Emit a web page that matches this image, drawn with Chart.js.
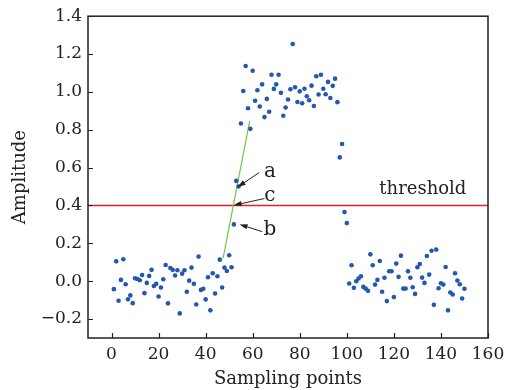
<!DOCTYPE html>
<html>
<head>
<meta charset="utf-8">
<script src="https://cdn.jsdelivr.net/npm/chart.js@4.4.0/dist/chart.umd.min.js"></script>
<style>
  body { margin: 0; background: #fff; }
  #wrap { width: 515px; height: 390px; }
</style>
</head>
<body>
<div id="wrap"><canvas id="ampChart" width="515" height="390"></canvas></div>
<script>
// amplitude of each sampling point, samples 1..150
var amplitude = [
  -0.042, 0.105, -0.103, 0.007, 0.116, -0.016, -0.095, -0.075, -0.116, 0.016,
  0.012, 0.005, 0.033, -0.063, -0.009, 0.028, 0.06, -0.025, -0.014, -0.081,
  -0.033, 0.01, 0.086, -0.117, 0.07, 0.06, 0.03, 0.058, -0.17, 0.04,
  0.058, -0.056, 0.003, 0.072, -0.014, -0.123, 0.13, -0.046, -0.04, -0.096,
  0.021, -0.154, 0.042, -0.065, 0.026, 0.114, -0.033, 0.072, 0.054, 0.137,
  0.074, 0.30, 0.53, 0.50, 0.833, 1.005, 1.137, 0.914, 0.805, 1.112,
  0.953, 1.009, 0.923, 1.04, 0.867, 0.963, 0.895, 1.091, 1.016, 1.04,
  1.091, 0.995, 0.874, 0.918, 0.96, 1.014, 1.253, 1.025, 0.947, 1.003,
  0.94, 1.017, 0.977, 0.956, 1.033, 0.926, 1.083, 0.986, 1.091, 1.017,
  0.988, 1.053, 0.968, 1.032, 1.07, 0.946, 0.654, 0.725, 0.365, 0.307,
  -0.012, 0.084, -0.035, 0.0, 0.014, 0.026, -0.03, -0.039, -0.051, 0.142,
  0.084, -0.018, 0.007, 0.107, -0.056, 0.018, -0.105, 0.053, 0.053, -0.084,
  0.093, 0.023, 0.135, -0.039, -0.039, 0.053, 0.018, -0.032, -0.067, 0.074,
  0.091, 0.019, -0.009, 0.133, 0.035, 0.161, -0.125, 0.167, -0.037, -0.011,
  -0.018, 0.075, -0.154, -0.06, -0.07, 0.042, 0.004, -0.016, -0.091, -0.04
];

var threshold = 0.4;
var thresholdX = [-10, 160];
// green fitted segment through points 52..54
var fitX = [47.4, 58.7];
var fitY = [0.12, 0.846];

var xTicks = [0, 20, 40, 60, 80, 100, 120, 140, 160];
var yTicks = [-0.2, 0, 0.2, 0.4, 0.6, 0.8, 1.0, 1.2, 1.4];

// labels a/b/c: text position, arrow tail, arrow head (data units)
var marks = [
  { text: 'a', tx: 67.3, ty: 0.58, from: [62.8, 0.574], to: [53.6, 0.498] },
  { text: 'c', tx: 67.3, ty: 0.452, from: [65, 0.437], to: [51.9, 0.401] },
  { text: 'b', tx: 67.3, ty: 0.272, from: [64, 0.262], to: [54.4, 0.30] }
];

var serif = '"DejaVu Serif", serif';

var points = amplitude.map(function(v, i) { return { x: i + 1, y: v }; });

var frame = {
  id: 'frame',
  afterDraw: function(chart) {
    var ctx = chart.ctx, a = chart.chartArea;
    var xs = chart.scales.x, ys = chart.scales.y;
    ctx.save();
    ctx.strokeStyle = '#222';
    ctx.lineWidth = 1.5;
    ctx.strokeRect(a.left, a.top, a.right - a.left, a.bottom - a.top);
    ctx.lineWidth = 1.2;
    ctx.beginPath();
    xTicks.forEach(function(t) {
      var px = Math.round(xs.getPixelForValue(t)) + 0.5;
      ctx.moveTo(px, a.bottom);
      ctx.lineTo(px, a.bottom - 5);
    });
    yTicks.forEach(function(t) {
      var py = Math.round(ys.getPixelForValue(t)) + 0.5;
      ctx.moveTo(a.left, py);
      ctx.lineTo(a.left + 5, py);
    });
    ctx.stroke();

    // threshold text
    ctx.fillStyle = '#222';
    ctx.font = '18px ' + serif;
    ctx.textAlign = 'center';
    ctx.textBaseline = 'middle';
    ctx.fillText('threshold', xs.getPixelForValue(132.3), ys.getPixelForValue(0.487));

    // a, b, c labels with arrows
    ctx.font = '20px ' + serif;
    marks.forEach(function(m) {
      ctx.fillText(m.text, xs.getPixelForValue(m.tx), ys.getPixelForValue(m.ty));
      var x1 = xs.getPixelForValue(m.from[0]), y1 = ys.getPixelForValue(m.from[1]);
      var x2 = xs.getPixelForValue(m.to[0]), y2 = ys.getPixelForValue(m.to[1]);
      var ang = Math.atan2(y2 - y1, x2 - x1);
      ctx.lineWidth = 1;
      ctx.beginPath();
      ctx.moveTo(x1, y1);
      ctx.lineTo(x2 - 6 * Math.cos(ang), y2 - 6 * Math.sin(ang));
      ctx.stroke();
      ctx.beginPath();
      ctx.moveTo(x2, y2);
      ctx.lineTo(x2 - 8 * Math.cos(ang) + 2.6 * Math.sin(ang), y2 - 8 * Math.sin(ang) - 2.6 * Math.cos(ang));
      ctx.lineTo(x2 - 8 * Math.cos(ang) - 2.6 * Math.sin(ang), y2 - 8 * Math.sin(ang) + 2.6 * Math.cos(ang));
      ctx.closePath();
      ctx.fill();
    });
    ctx.restore();
  }
};

var ctx = document.getElementById('ampChart').getContext('2d');
var chart = new Chart(ctx, {
  type: 'scatter',
  data: {
    datasets: [
      {
        label: 'samples',
        data: points,
        backgroundColor: '#2457ae',
        borderColor: '#2457ae',
        pointRadius: 2.3,
        pointBorderWidth: 0
      },
      {
        label: 'fit',
        type: 'line',
        data: fitX.map(function(x, i) { return { x: x, y: fitY[i] }; }),
        borderColor: '#6cc644',
        borderWidth: 1.2,
        pointRadius: 0
      },
      {
        label: 'limit',
        type: 'line',
        data: thresholdX.map(function(x) { return { x: x, y: threshold }; }),
        borderColor: 'rgb(236, 32, 36)',
        backgroundColor: 'rgb(236, 32, 36)',
        borderWidth: 1.5,
        pointRadius: 0
      }
    ]
  },
  options: {
    responsive: false,
    animation: false,
    layout: { padding: { left: 10, right: 27, top: 16, bottom: 0 } },
    plugins: { legend: { display: false }, tooltip: { enabled: false } },
    scales: {
      x: {
        type: 'linear',
        min: -10,
        max: 160,
        afterBuildTicks: function(s) { s.ticks = xTicks.map(function(v) { return { value: v }; }); },
        afterFit: function(s) { s.height = 52; },
        grid: { display: false, tickLength: 0 },
        border: { display: false },
        ticks: { color: '#222', padding: 6, font: { family: serif, size: 17 }, maxRotation: 0 },
        title: { display: true, text: 'Sampling points', color: '#222', padding: 0, font: { family: serif, size: 18 } }
      },
      y: {
        type: 'linear',
        min: -0.3,
        max: 1.4,
        afterBuildTicks: function(s) { s.ticks = yTicks.map(function(v) { return { value: v }; }); },
        afterFit: function(s) { s.width = 78; },
        grid: { display: false, tickLength: 0 },
        border: { display: false },
        ticks: {
          color: '#222',
          padding: 6,
          font: { family: serif, size: 17 },
          callback: function(v) { return v.toFixed(1).replace('-', '\u2212'); }
        },
        title: { display: true, text: 'Amplitude', color: '#222', padding: 0, font: { family: serif, size: 18 } }
      }
    }
  },
  plugins: [frame]
});
</script>
</body>
</html>
